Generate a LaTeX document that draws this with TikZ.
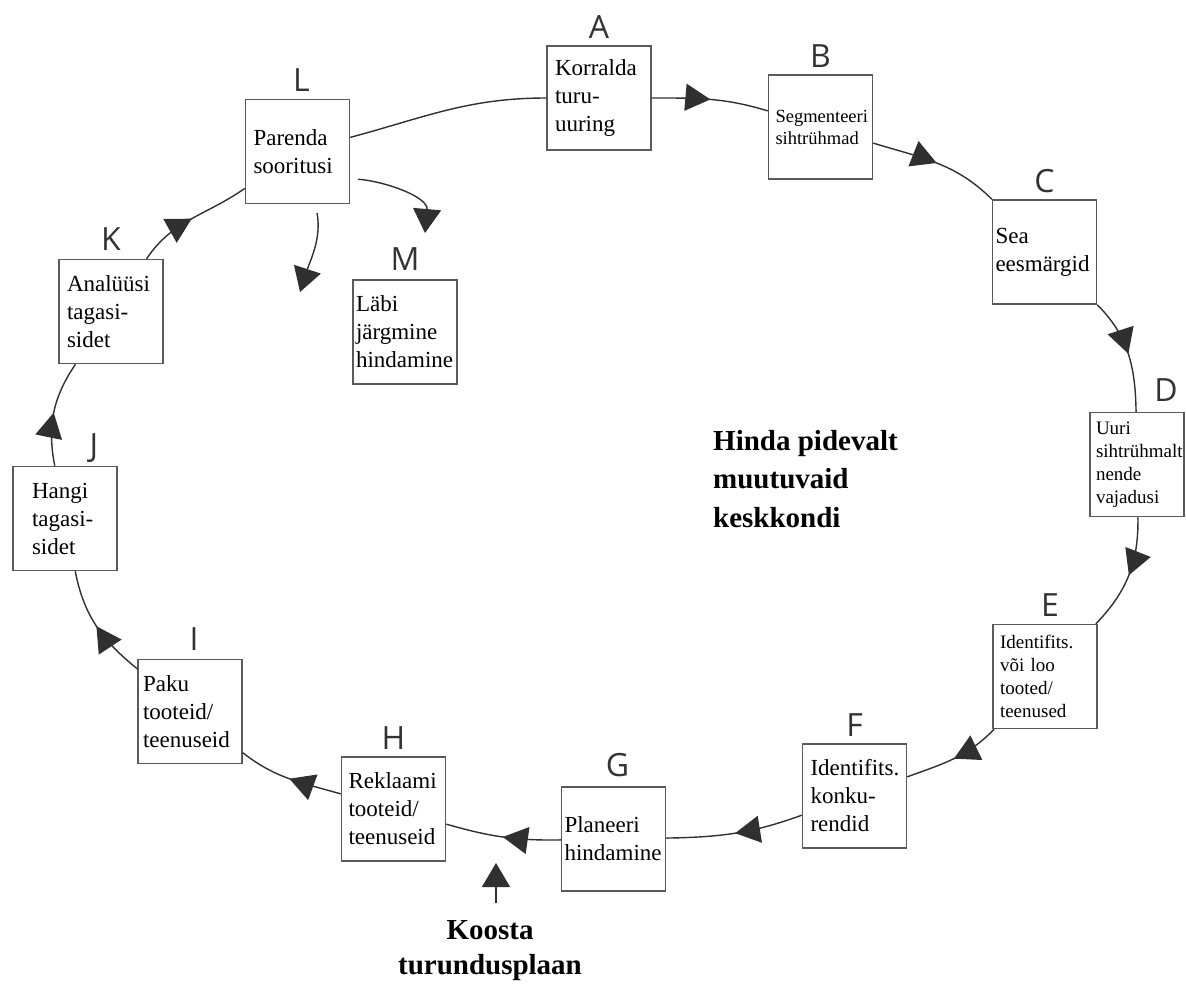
\documentclass[tikz,border=0pt]{standalone}
\usepackage{fontspec}
\setmainfont{Liberation Serif}
\newfontfamily\lettersans{Open Sans}
\usepackage{tikz}
\usetikzlibrary{arrows.meta,positioning,decorations.markings}
\definecolor{BoxEdge}{HTML}{5A5A5A}
\definecolor{LineInk}{HTML}{303030}
\hyphenpenalty=10000
\exhyphenpenalty=10000

\begin{document}
\begin{tikzpicture}[x=1pt, y=1pt,
    stepbox/.style={draw=BoxEdge, line width=1.5pt, fill=white, minimum width=104pt, minimum height=104pt,
      text width=88pt, inner xsep=8pt, inner ysep=0pt, align=left, font=\fontsize{23}{28}\selectfont},
    smallbox/.style={stepbox, font=\fontsize{19}{23}\selectfont},
    letter/.style={font=\lettersans\fontsize{32}{32}\selectfont, text=black!80, inner sep=0pt, text depth=0pt},
    conn/.style={draw=LineInk, line width=1.4pt, postaction={decorate},
      decoration={markings, mark=at position 0.5 with {\arrow{Triangle[length=25pt,width=27pt]}}}},
    plain/.style={draw=LineInk, line width=1.4pt},
    arr/.style={draw=LineInk, line width=1.4pt, -{Triangle[length=24pt,width=28pt]}},
    bigtext/.style={font=\bfseries\fontsize{29}{38.5}\selectfont, inner sep=0pt}]
  \useasboundingbox (0,0) rectangle (1186,-983);

  % steps round the cycle
  \node[stepbox] (A) at (599,-98) {Korralda\\turu-\\uuring};
  \node[smallbox, inner xsep=7pt, text width=90pt, font=\fontsize{18.5}{22}\selectfont] (B) at (820.5,-127) {Segmenteeri\\sihtrühmad};
  \node[stepbox, inner xsep=3pt, text width=98pt] (C) at (1044.5,-252) {Sea\\eesmärgid};
  \node[smallbox, minimum width=94pt, inner xsep=6pt, text width=82pt] (D) at (1137,-464.5) {Uuri\\sihtrühmalt\\nende\\vajadusi};
  \node[smallbox, inner xsep=7pt, text width=90pt] (E) at (1045,-676.5) {Identifits.\\või loo\\tooted/\\teenused};
  \node[stepbox] (F) at (854.5,-796) {Identifits.\\konku-\\rendid};
  \node[stepbox, inner xsep=3pt, text width=98pt] (G) at (613.5,-839) {Planeeri\\hindamine};
  \node[stepbox, inner xsep=7pt, text width=90pt] (H) at (393.5,-809) {Reklaami\\tooteid/\\teenuseid};
  \node[stepbox, inner xsep=5pt, text width=94pt] (I) at (190,-711.5) {Paku\\tooteid/\\teenuseid};
  \node[stepbox, inner xsep=19pt, text width=66pt] (J) at (65,-518.5) {Hangi\\tagasi-\\sidet};
  \node[stepbox] (K) at (111,-311.5) {Analüüsi\\tagasi-\\sidet};
  \node[stepbox] (L) at (297.5,-151.5) {Parenda\\sooritusi};
  \node[stepbox, inner xsep=3pt, text width=98pt] (M) at (405,-332) {Läbi\\järgmine\\hindamine};

  % letters
  \node[letter, above=7pt of A] (labA) {A};
  \node[letter, above=7pt of B] (labB) {B};
  \node[letter, above=7pt of C] (labC) {C};
  \node[letter, above=10pt of D, xshift=29pt] (labD) {D};
  \node[letter, above=7pt of E, xshift=5pt] (labE) {E};
  \node[letter, above=7pt of F] (labF) {F};
  \node[letter, above=10pt of G, xshift=4pt] (labG) {G};
  \node[letter, above=7pt of H] (labH) {H};
  \node[letter, above=8pt of I, xshift=4pt] (labI) {I};
  \node[letter, above=9pt of J, xshift=29pt] (labJ) {J};
  \node[letter, above=8pt of K] (labK) {K};
  \node[letter, above=7pt of L, xshift=4pt] (labL) {L};
  \node[letter, above=9pt of M] (labM) {M};

  % texts
  \node[bigtext, anchor=west, align=left] (hinda) at (713,-478.6) {Hinda pidevalt\\muutuvaid\\keskkondi};
  \node[bigtext, align=center, font=\bfseries\fontsize{29}{35}\selectfont] (koosta) at (490,-950.7) {Koosta\\turundusplaan};

  \coordinate (plantip) at (496,-863);
  \coordinate (ltip1) at (300,-292);
  \coordinate (ltip2) at (425,-233);

  % cycle
  \draw[conn] (A) to[out=0, in=163] (B);
  \draw[conn] (B) to[out=-17, in=135] (C);
  \draw[conn] (C) to[out=-45, in=91] (D);
  \draw[conn] (D) to[out=-89, in=46] (E);
  \draw[conn] (E) to[out=-134, in=20] (F);
  \draw[conn] (F) to[out=-160, in=1] (G);
  \draw[conn] (G) to[out=181, in=-16] (H);
  \draw[conn] (H) to[out=164, in=-38] (I);
  \draw[conn] (I) to[out=141, in=-79] (J);
  \draw[conn] (J) to[out=101, in=-124] (K);
  \draw[conn] (K) to[out=56, in=-145] (L);
  \draw[plain] (L) to[out=15, in=180] (A);

  \draw[arr, shorten <=17pt] (koosta.north -| plantip) -- (plantip);
  \draw[arr, shorten <=9pt] ([xshift=18pt]L.south) to[out=-80, in=72] (ltip1);
  \draw[arr, shorten <=8pt] ([yshift=-27pt]L.east) to[out=-5, in=85] (ltip2);
\end{tikzpicture}
\end{document}
